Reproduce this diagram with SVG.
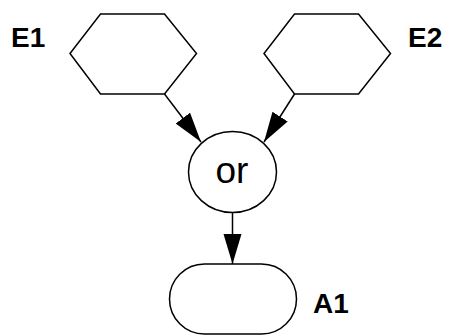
<svg xmlns="http://www.w3.org/2000/svg" width="450" height="336" viewBox="0 0 450 336">
<defs>
<style>
.shape{fill:#fff;stroke:#000;stroke-width:1.5}
.edge{fill:none;stroke:#000;stroke-width:1.5}
.lbl{font-family:"Liberation Sans",Arial,sans-serif;font-weight:bold;font-size:28px;fill:#000}
.txt{font-family:"Liberation Sans",Arial,sans-serif;font-size:37px;fill:#000;text-anchor:middle}
</style>
<marker id="arr" markerUnits="userSpaceOnUse" markerWidth="32" markerHeight="20" refX="30" refY="9" orient="auto">
<path d="M0,0 L30,9 L0,18 Z" fill="#000"/>
</marker>
</defs>
<rect width="450" height="336" fill="#fff"/>
<g id="E1">
<polygon class="shape" points="100.5,14 164.5,14 196.5,53.5 164.5,94 100.5,94 70,53.5"/>
<text class="lbl" x="11" y="46.5">E1</text>
</g>
<g id="E2">
<polygon class="shape" points="294.5,14 358.5,14 390.5,53.5 358.5,94 294.5,94 264,53.5"/>
<text class="lbl" x="408" y="46.5">E2</text>
</g>
<g id="or">
<ellipse class="shape" cx="232.5" cy="172" rx="44" ry="40.5"/>
<text class="txt" x="232" y="183">or</text>
</g>
<g id="A1">
<rect class="shape" x="169.5" y="264" width="127" height="70" rx="35" ry="35"/>
<text class="lbl" x="313" y="313">A1</text>
</g>
<g id="connectors">
<line class="edge" x1="164.5" y1="94" x2="201" y2="142" marker-end="url(#arr)"/>
<line class="edge" x1="294.5" y1="94" x2="264" y2="142" marker-end="url(#arr)"/>
<line class="edge" x1="232.5" y1="212.5" x2="232.5" y2="264" marker-end="url(#arr)"/>
</g>
</svg>
